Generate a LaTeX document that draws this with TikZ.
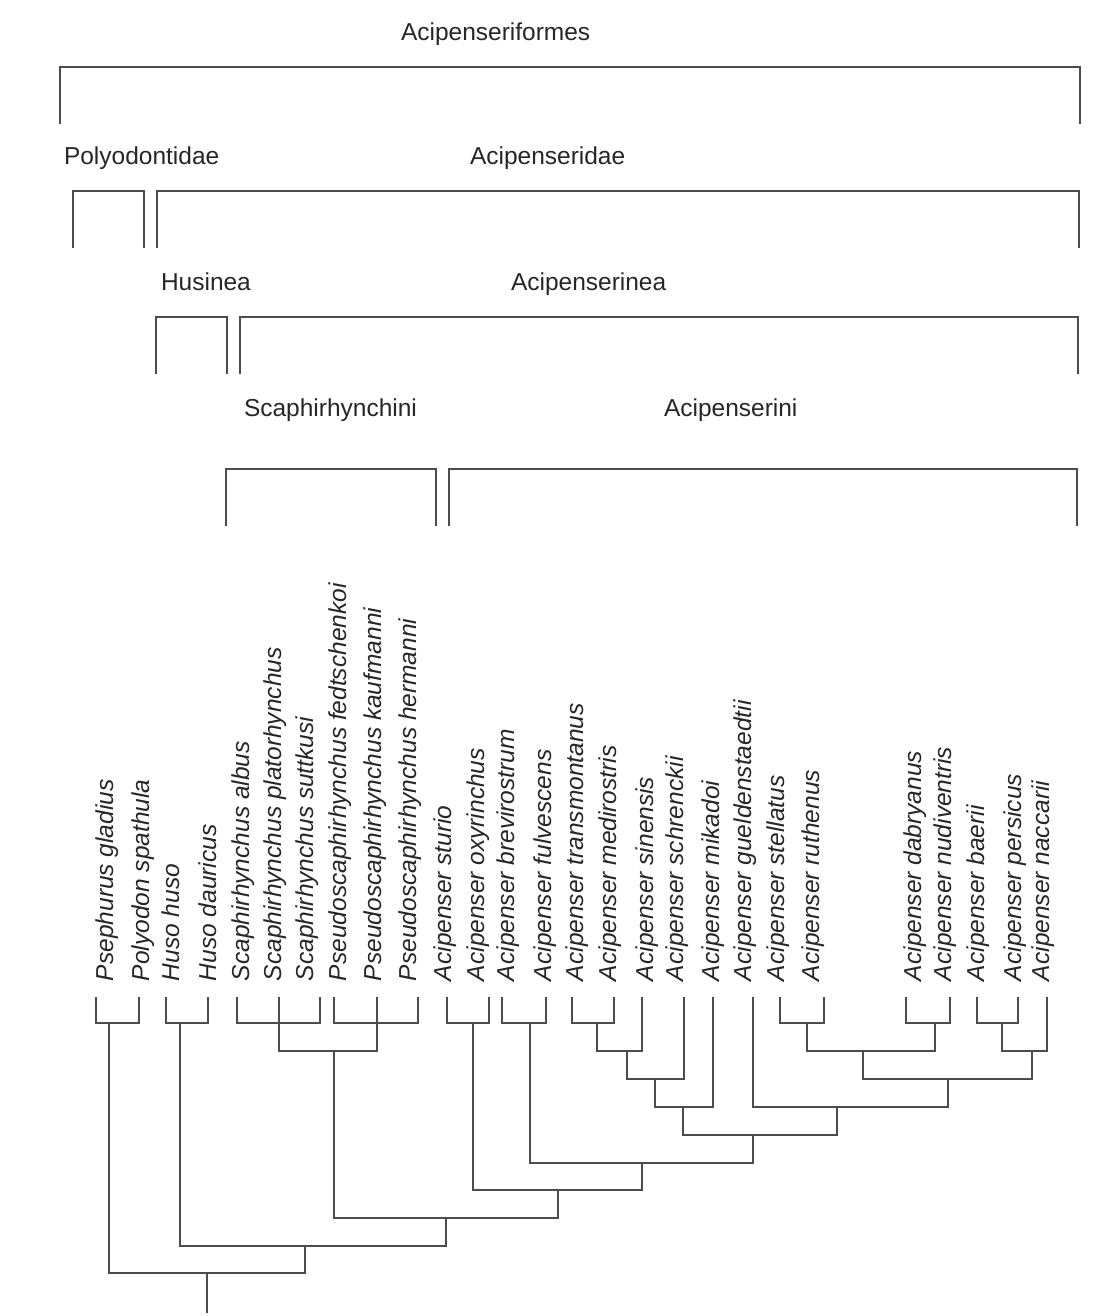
\documentclass[tikz,border=0pt]{standalone}
\usepackage{fontspec}
\setmainfont{Liberation Sans}
\begin{document}
\begin{tikzpicture}[x=0.5pt, y=-0.5pt, line width=1pt,
        branche/.style={draw=black!70},
        groupe/.style={anchor=base west, inner sep=0pt, text=black!85, font=\fontsize{12.25}{14}\selectfont},
        espece/.style={rotate=90, anchor=base west, inner sep=0pt, text=black!85, font=\fontsize{12.25}{14}\selectfont\itshape}]
    \useasboundingbox (0, 0) rectangle (1107, 1316);
    % Les groupes en haut, chacun avec son crochet.
    \foreach \nom/\xt/\yt/\xa/\xb/\yc in {
        Acipenseriformes/400/41/60/1080/67,
        Polyodontidae/63/165/73/144/191,
        Acipenseridae/469/165/157/1079/191,
        Husinea/160/290/156/227/317,
        Acipenserinea/510/290/240/1078/317,
        Scaphirhynchini/243/416/226/436/469,
        Acipenserini/663/416/449/1077/469%
    }{
        \node[groupe] (\nom) at (\xt, \yt) {\nom};
        \draw[branche] (\xa, \yc + 57) |- (\xb, \yc) -- ++(0, 57);
    }
    % Les especes : bout de branche et nom.
    \foreach \n/\x/\xt/\espece in {
        1/96/107/Psephurus gladius,
        2/139/143/Polyodon spathula,
        3/166/173/Huso huso,
        4/208/210/Huso dauricus,
        5/237/243/Scaphirhynchus albus,
        6/279/275/Scaphirhynchus platorhynchus,
        7/320/307/Scaphirhynchus suttkusi,
        8/334/340/Pseudoscaphirhynchus fedtschenkoi,
        9/377/375/Pseudoscaphirhynchus kaufmanni,
        10/418/410/Pseudoscaphirhynchus hermanni,
        11/447/445/Acipenser sturio,
        12/489/478/Acipenser oxyrinchus,
        13/502/508/Acipenser brevirostrum,
        14/546/545/Acipenser fulvescens,
        15/572/577/Acipenser transmontanus,
        16/614/610/Acipenser medirostris,
        17/642/647/Acipenser sinensis,
        18/684/677/Acipenser schrenckii,
        19/713/713/Acipenser mikadoi,
        20/753/745/Acipenser gueldenstaedtii,
        21/780/778/Acipenser stellatus,
        22/824/813/Acipenser ruthenus,
        23/906/915/Acipenser dabryanus,
        24/950/945/Acipenser nudiventris,
        25/977/978/Acipenser baerii,
        26/1018/1015/Acipenser persicus,
        27/1047/1043/Acipenser naccarii%
    }{
        \coordinate (f\n) at (\x, 997);
        \node[espece] (e\n) at (\xt + 6, 982) {\espece};
    }
    % Les noeuds de l'arbre (x, niveau)
    \foreach \nom/\x/\y in {
        polyo/109/1023, huso/180/1023, scaph/279/1023, pseudo/377/1023,
        scaphini/334/1051, sturox/473/1023, brevful/530/1023, trmed/597/1023,
        sin/627/1051, schr/655/1079, mik/683/1107, stru/807/1023,
        dabnud/935/1023, baper/1002/1023, ponto/863/1051, nacc/1032/1051,
        grpA/948/1079, guel/837/1107, grpB/753/1135, grpC/642/1163,
        grpD/558/1190, acip/446/1218, acipdae/305/1246, racine/207/1273%
    }{
        \coordinate (\nom) at (\x, \y);
    }
    \coordinate (pied) at (207, 1313);
    \foreach \a/\p/\b in {
        f1/polyo/f2, f3/huso/f4, f5/scaph/f7, f8/pseudo/f10,
        scaph/scaphini/pseudo, f11/sturox/f12, f13/brevful/f14,
        f15/trmed/f16, trmed/sin/f17, sin/schr/f18, schr/mik/f19,
        f21/stru/f22, f23/dabnud/f24, f25/baper/f26, stru/ponto/dabnud,
        baper/nacc/f27, ponto/grpA/nacc, f20/guel/grpA, mik/grpB/guel,
        brevful/grpC/grpB, sturox/grpD/grpC, scaphini/acip/grpD,
        huso/acipdae/acip, polyo/racine/acipdae%
    }{
        \draw[branche] (\a) |- (\p) -| (\b);
    }
    \draw[branche] (f6) -- (scaph);
    \draw[branche] (f9) -- (pseudo);
    \draw[branche] (racine) -- (pied);
\end{tikzpicture}
\end{document}
